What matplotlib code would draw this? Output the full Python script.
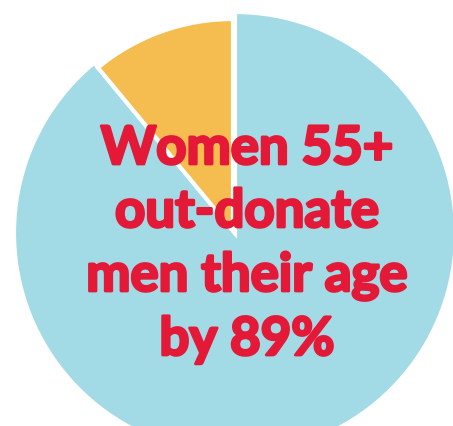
import matplotlib
matplotlib.use("Agg")
import matplotlib.pyplot as plt
import matplotlib.patheffects as pe

# share of giving (women 55+ vs men their age)
labels = ["Women 55+", "Men 55+"]
shares = [89, 11]
colors = ["#A2DAE6", "#F5BD50"]
text_lines = ["Women 55+", "out-donate", "men their age", "by 89%"]

W, H = 453, 426
fig = plt.figure(figsize=(W / 100, H / 100), dpi=100)
ax = fig.add_axes([0, 0, 1, 1])

wedges, _ = ax.pie(shares, colors=colors, startangle=90, counterclock=False,
                   center=(235, H - 233), radius=221,
                   wedgeprops=dict(edgecolor="white", linewidth=3))
ax.set_xlim(0, W)
ax.set_ylim(0, H)
ax.set_aspect("equal")
ax.axis("off")

# smaller orange slice, nudged left
wedges[1].set_radius(212)
wedges[1].set_center((233, H - 231))

red = "#E31937"
baselines = [164, 227, 291, 355]
for line, b in zip(text_lines, baselines):
    ax.text(247, H - b, line, ha="center", va="baseline", fontsize=38,
            fontweight="bold", family="Lato", color=red,
            path_effects=[pe.withStroke(linewidth=2, foreground=red)])

fig.savefig("out.png", dpi=100)
